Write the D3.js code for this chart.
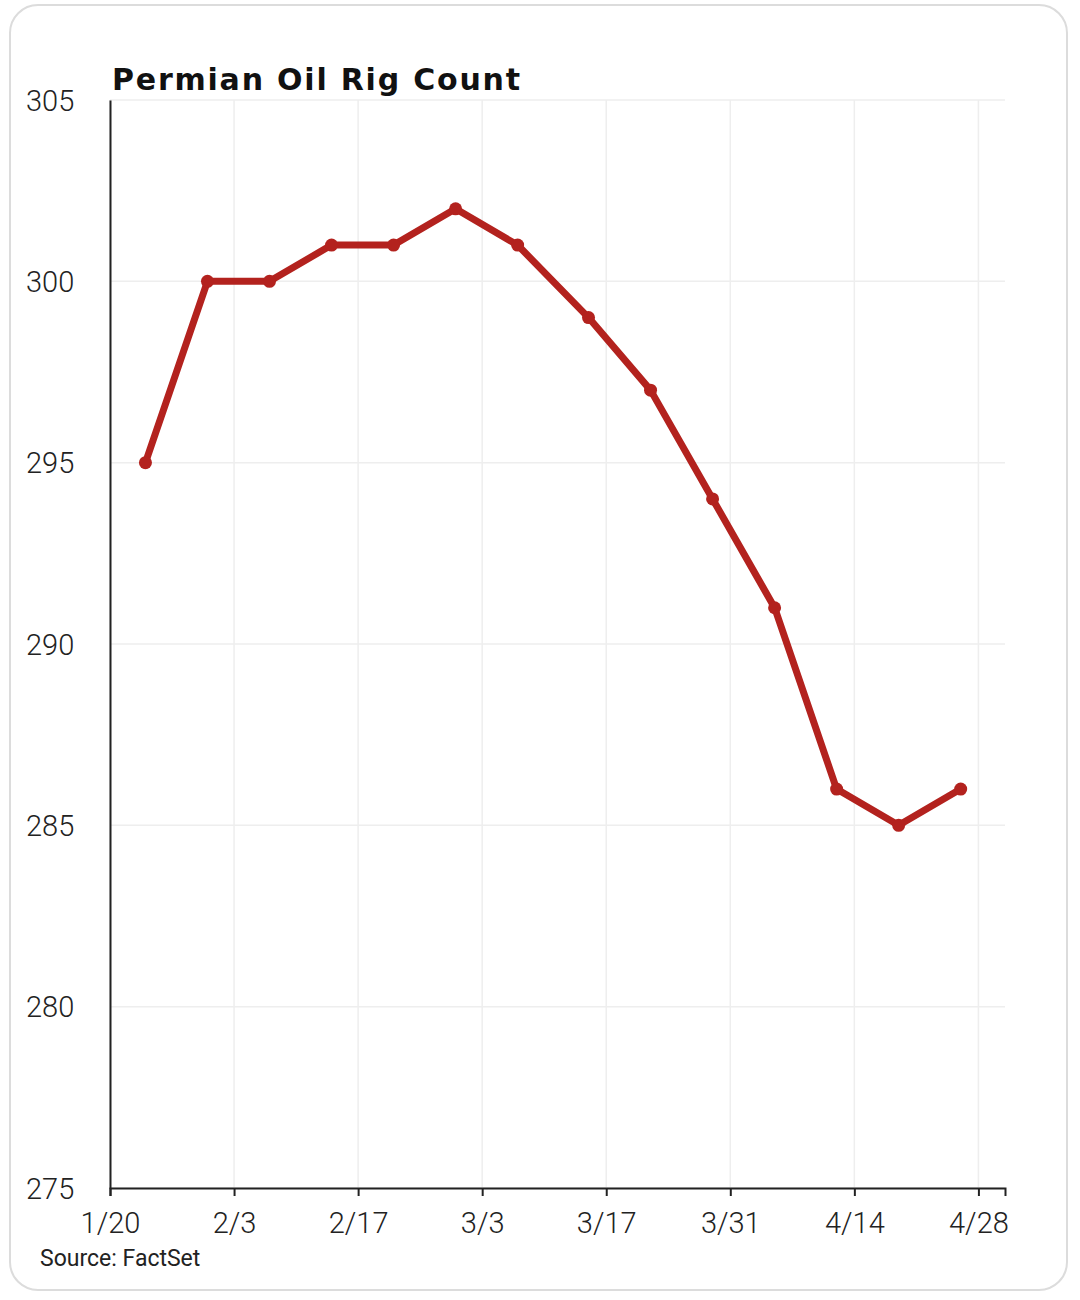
<!DOCTYPE html>
<html lang="en">
<head>
<meta charset="UTF-8">
<title>Permian Oil Rig Count</title>
<script src="https://d3js.org/d3.v7.min.js"></script>
<style>
  body { margin: 0; background: #fff; }
  svg { display: block; }
</style>
</head>
<body>
<svg></svg>
<script>
var dates = ["2025-01-24","2025-01-31","2025-02-07","2025-02-14","2025-02-21","2025-02-28","2025-03-07",
             "2025-03-15","2025-03-22","2025-03-29","2025-04-05","2025-04-12","2025-04-19","2025-04-26"];
var rigs = [295, 300, 300, 301, 301, 302, 301, 299, 297, 294, 291, 286, 285, 286];
var xTicks = ["2025-01-20","2025-02-03","2025-02-17","2025-03-03","2025-03-17","2025-03-31","2025-04-14","2025-04-28"];
var yTicks = [275, 280, 285, 290, 295, 300, 305];

var width = 1080, height = 1300;
var svg = d3.select("svg").attr("width", width).attr("height", height);
var parse = d3.timeParse("%Y-%m-%d");
var fmt = function (d) { return (d.getMonth() + 1) + "/" + d.getDate(); };

// card
svg.append("rect").attr("x", 10).attr("y", 5).attr("width", 1057).attr("height", 1285)
    .attr("rx", 28).attr("fill", "#fff").attr("stroke", "#dcdcdc").attr("stroke-width", 2);

var x = d3.scaleTime()
    .domain([parse("2025-01-20"), parse("2025-05-01")])
    .range([110, 1005]);
var y = d3.scaleLinear().domain([275, 305]).range([1188, 100]);

// grid
svg.append("g").selectAll("line").data(xTicks.map(parse)).enter().append("line")
    .attr("x1", function (d) { return x(d); }).attr("x2", function (d) { return x(d); })
    .attr("y1", 100).attr("y2", 1188).attr("stroke", "#eeeeee").attr("stroke-width", 1.5);
svg.append("g").selectAll("line").data(yTicks).enter().append("line")
    .attr("x1", 110).attr("x2", 1005)
    .attr("y1", function (d) { return y(d); }).attr("y2", function (d) { return y(d); })
    .attr("stroke", "#eeeeee").attr("stroke-width", 1.5);

var xAxis = d3.axisBottom(x).tickValues(xTicks.map(parse)).tickFormat(fmt).tickSizeOuter(0).tickSize(8).tickPadding(16);
var yAxis = d3.axisLeft(y).tickValues(yTicks).tickSizeOuter(0).tickSize(0).tickPadding(0);

var gx = svg.append("g").attr("transform", "translate(0,1188)").call(xAxis);
var gy = svg.append("g").attr("transform", "translate(110,0)").call(yAxis);
[gx, gy].forEach(function (g) {
    g.selectAll("path, line").attr("stroke", "#222").attr("stroke-width", 2);
    g.selectAll("text").attr("font-family", "Roboto, sans-serif").attr("font-weight", 300)
        .attr("font-size", 29).attr("fill", "#222");
});
gy.selectAll(".tick text").attr("text-anchor", "start").attr("x", -84).attr("dy", "0.35em");

var pts = dates.map(function (d, i) { return { d: parse(d), v: rigs[i] }; });
var line = d3.line().x(function (p) { return x(p.d); }).y(function (p) { return y(p.v); });
svg.append("path").datum(pts).attr("d", line).attr("fill", "none")
    .attr("stroke", "#b3221e").attr("stroke-width", 7).attr("stroke-linejoin", "round");
svg.append("g").selectAll("circle").data(pts).enter().append("circle")
    .attr("cx", function (p) { return x(p.d); }).attr("cy", function (p) { return y(p.v); })
    .attr("r", 6.5).attr("fill", "#b3221e");

svg.append("text").attr("x", 112).attr("y", 90).text("Permian Oil Rig Count")
    .attr("font-family", "'DejaVu Sans', sans-serif").attr("font-weight", 700).attr("font-size", 30)
    .attr("textLength", 408).attr("fill", "#111");
svg.append("text").attr("x", 40).attr("y", 1266).text("Source: FactSet")
    .attr("font-family", "Roboto, sans-serif").attr("font-size", 23).attr("fill", "#222");
</script>
</body>
</html>
